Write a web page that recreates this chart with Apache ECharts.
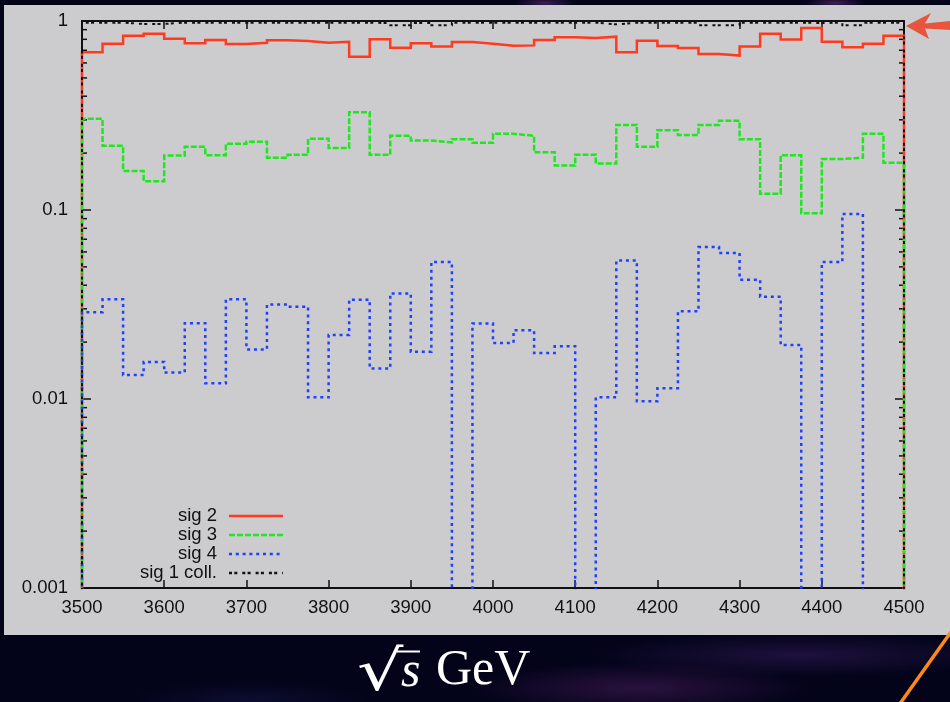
<!DOCTYPE html>
<html>
<head>
<meta charset="utf-8">
<title>sig ratios vs sqrt(s)</title>
<script src="https://cdn.jsdelivr.net/npm/echarts@6/dist/echarts.min.js"></script>
<style>
  html, body { margin: 0; padding: 0; }
  body {
    width: 950px; height: 702px; overflow: hidden; position: relative;
    background:
      radial-gradient(ellipse 170px 26px at 640px 688px, rgba(90,35,105,0.45), rgba(0,0,0,0)),
      radial-gradient(ellipse 210px 22px at 800px 655px, rgba(70,40,110,0.40), rgba(0,0,0,0)),
      radial-gradient(ellipse 120px 20px at 250px 700px, rgba(30,30,90,0.35), rgba(0,0,0,0)),
      radial-gradient(ellipse 30px 6px at 545px 3px, rgba(120,60,140,0.5), rgba(0,0,0,0)),
      radial-gradient(ellipse 30px 6px at 835px 3px, rgba(120,60,140,0.5), rgba(0,0,0,0)),
      #03031a;
  }
  #panel {
    position: absolute; left: 4px; top: 5px; width: 946px; height: 630px;
    background: #cccccf;
  }
  #chart { position: absolute; left: 0; top: 0; width: 950px; height: 702px; }
</style>
</head>
<body>
<div id="panel"></div>
<div id="chart"></div>
<script>
// Histogram bins: 40 bins of 25 GeV from 3500 to 4500
const binStart = 3500;
const binWidth = 25;

// Per-bin values (0 = empty bin)
const sig2 = [0.683,0.758,0.836,0.857,0.806,0.762,0.793,0.756,0.767,0.790,
              0.784,0.767,0.777,0.647,0.800,0.722,0.762,0.732,0.774,0.758,
              0.740,0.743,0.793,0.820,0.813,0.826,0.683,0.787,0.738,0.720,
              0.669,0.656,0.732,0.857,0.797,0.918,0.777,0.726,0.758,0.836];
const sig3 = [0.304,0.219,0.161,0.142,0.194,0.216,0.195,0.224,0.230,0.189,
              0.196,0.238,0.213,0.329,0.196,0.247,0.233,0.228,0.237,0.227,
              0.253,0.247,0.202,0.172,0.196,0.176,0.282,0.216,0.264,0.249,
              0.282,0.297,0.237,0.122,0.195,0.096,0.186,0.189,0.253,0.178];
const sig4 = [0.0288,0.0337,0.0134,0.0157,0.0138,0.0252,0.0121,0.0337,0.0183,0.0316,
              0.0308,0.0102,0.0218,0.0335,0.0145,0.0362,0.0178,0.0531,0,0.0251,
              0.0198,0.0231,0.0175,0.0190,0,0.0102,0.0540,0.00972,0.0114,0.0291,
              0.0637,0.0592,0.0428,0.0348,0.0193,0,0.0531,0.0953,0,0];
const sig1coll = [0.98,0.98,0.965,0.965,0.98,0.98,0.98,0.98,0.98,0.98,
                  0.98,0.98,0.98,0.98,0.975,0.95,0.975,0.95,0.98,0.98,
                  0.98,0.98,0.98,0.98,0.98,0.96,0.98,0.98,0.98,0.98,
                  0.95,0.95,0.98,0.98,0.98,0.975,0.98,0.95,0.98,0.98];

const seriesNames = ['sig 2', 'sig 3', 'sig 4', 'sig 1 coll.'];
const yTickLabels = ['0.001', '0.01', '0.1', '1'];
const xTickValues = [3500, 3600, 3700, 3800, 3900, 4000, 4100, 4200, 4300, 4400, 4500];

const xMin = 3500, xMax = 4500;
const yMin = 0.001, yMax = 1;
// empty bins are drawn just below the axis floor and clipped by the grid
const FLOOR = 1e-4;

// histogram outline: vertical edges from the floor, flat tops across each bin
function histSteps(vals) {
  const pts = [[binStart, FLOOR]];
  vals.forEach(function (v, i) {
    const y = v > 0 ? v : FLOOR;
    pts.push([binStart + i * binWidth, y]);
    pts.push([binStart + (i + 1) * binWidth, y]);
  });
  pts.push([binStart + vals.length * binWidth, FLOOR]);
  return pts;
}

// log minor ticks 2..9 within each decade
const minorTicks = [];
for (let e = -3; e < 0; e++) {
  for (let m = 2; m <= 9; m++) minorTicks.push([xMin, m * Math.pow(10, e)]);
}

const font = '"Liberation Sans", Arial, sans-serif';
const ink = '#111';

function lineSeries(name, vals, color, dash, width) {
  return {
    name: name, type: 'line', data: histSteps(vals),
    symbol: 'none', showSymbol: false, clip: true, animation: false,
    lineStyle: { color: color, width: width, type: dash, cap: 'butt', join: 'miter' },
    itemStyle: { color: color },
    emphasis: { disabled: true }
  };
}

const chart = echarts.init(document.getElementById('chart'), null, { renderer: 'canvas' });

const axisCommon = {
  axisLine: { show: true, onZero: false, lineStyle: { color: ink, width: 2 } },
  splitLine: { show: false },
  minorTick: { show: false }
};

chart.setOption({
  backgroundColor: 'transparent',
  animation: false,
  grid: { left: 82, top: 21, width: 822, height: 567, containLabel: false },
  legend: {
    orient: 'vertical', left: 117, top: 506.5,
    align: 'right', itemWidth: 54, itemHeight: 14, itemGap: 0,
    padding: 0, selectedMode: false,
    data: seriesNames,
    itemStyle: { opacity: 0 },
    lineStyle: { width: 2.5 },
    formatter: function (n) { return '{t|' + n + '}'; },
    textStyle: {
      color: ink, fontFamily: font, fontSize: 18.5, lineHeight: 14,
      rich: { t: { width: 100, align: 'right', padding: [0, 7, 0, 0], lineHeight: 14, height: 14,
                   fontFamily: font, fontSize: 18.5, color: ink } }
    }
  },
  xAxis: [
    Object.assign({}, axisCommon, {
      type: 'value', position: 'bottom', min: xMin, max: xMax, interval: 100,
      axisTick: { show: true, inside: true, length: 8, lineStyle: { color: ink, width: 1.5 } },
      axisLabel: { show: true, color: ink, fontFamily: font, fontSize: 18.5, margin: 10,
        formatter: function (v) { return xTickValues.indexOf(v) >= 0 ? String(v) : ''; } }
    }),
    Object.assign({}, axisCommon, {
      type: 'value', position: 'top', min: xMin, max: xMax, interval: 100,
      axisTick: { show: true, inside: true, length: 8, lineStyle: { color: ink, width: 1.5 } },
      axisLabel: { show: false }
    })
  ],
  yAxis: [
    Object.assign({}, axisCommon, {
      type: 'log', logBase: 10, position: 'left', min: yMin, max: yMax,
      axisTick: { show: true, inside: true, length: 9, lineStyle: { color: ink, width: 1.5 } },
      axisLabel: { show: true, color: ink, fontFamily: font, fontSize: 18.5, margin: 14,
        formatter: function (v) { return yTickLabels[Math.round(Math.log10(v)) + 3] || ''; } }
    }),
    Object.assign({}, axisCommon, {
      type: 'log', logBase: 10, position: 'right', min: yMin, max: yMax,
      axisTick: { show: true, inside: true, length: 9, lineStyle: { color: ink, width: 1.5 } },
      axisLabel: { show: false }
    })
  ],
  series: [
    {
      type: 'custom', name: 'minor ticks', data: minorTicks, silent: true, clip: false,
      xAxisIndex: 0, yAxisIndex: 0, z: 1,
      renderItem: function (params, api) {
        const l = api.coord([xMin, api.value(1)]);
        const r = api.coord([xMax, api.value(1)]);
        const st = { stroke: ink, lineWidth: 1.5 };
        return { type: 'group', children: [
          { type: 'line', shape: { x1: l[0], y1: l[1], x2: l[0] + 5, y2: l[1] }, style: st },
          { type: 'line', shape: { x1: r[0], y1: r[1], x2: r[0] - 5, y2: r[1] }, style: st }
        ] };
      }
    },
    lineSeries('sig 2', sig2, '#ff3a1f', 'solid', 2.5),
    lineSeries('sig 3', sig3, '#1fe61f', [6, 2], 2.5),
    lineSeries('sig 4', sig4, '#1f40ff', [3, 3.8], 2.5),
    lineSeries('sig 1 coll.', sig1coll, '#111111', [3, 2.3, 3, 5], 2)
  ],
  graphic: [
    // axis title below the panel
    { type: 'text', x: 357, y: 647, scaleX: 1.3, scaleY: 1.0, z: 10,
      style: { text: '\u221A', fill: '#ffffff', font: '56px "DejaVu Serif", serif' } },
    { type: 'line', z: 10, shape: { x1: 397, y1: 651.5, x2: 420, y2: 651.5 },
      style: { stroke: '#ffffff', lineWidth: 2 } },
    { type: 'text', left: 401, top: 648, z: 10,
      style: { text: 's', fill: '#ffffff', font: 'italic 50px "Liberation Serif", serif' } },
    { type: 'text', left: 436, top: 646, z: 10,
      style: { text: 'GeV', fill: '#ffffff', font: '50px "Liberation Serif", serif' } },
    // pointer arrow at the top right
    { type: 'polygon', z: 10,
      shape: { points: [[906, 26], [931, 13], [925, 23.5], [950, 21], [950, 30], [925, 28.5], [929, 39]] },
      style: { fill: '#e8553c' } },
    // orange stroke in the lower right corner
    { type: 'line', z: 10, shape: { x1: 953, y1: 629, x2: 899, y2: 705 },
      style: { stroke: '#ff8a10', lineWidth: 3.5 } }
  ]
});
</script>
</body>
</html>
